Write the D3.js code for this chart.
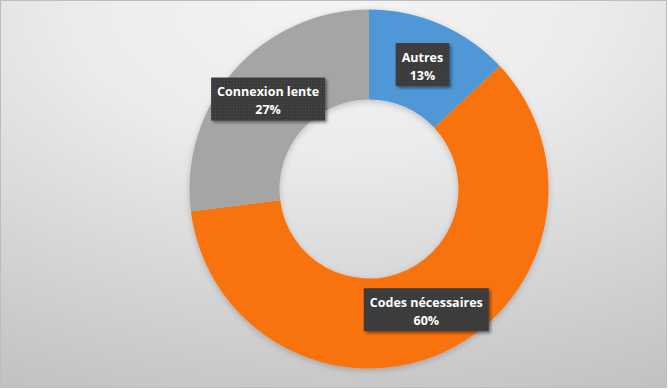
<!DOCTYPE html>
<html lang="fr">
<head>
    <meta charset="UTF-8">
    <title>Donut Chart</title>
    <script src="https://d3js.org/d3.v7.min.js"></script>
    <style>
        html, body { margin: 0; padding: 0; }
        body { width: 668px; height: 389px; overflow: hidden; }
        text {
            font-family: "Open Sans", "Liberation Sans", sans-serif;
            font-weight: bold;
            font-size: 12.5px;
            fill: #fff;
            text-anchor: middle;
        }
    </style>
</head>
<body>
    <div id="chart"></div>

    <script>
        // Data
        const categories = ["Autres", "Codes nécessaires", "Connexion lente"];
        const values = [13, 60, 27];
        const colors = ["#4f97d6", "#f8730a", "#a5a5a5"];

        const width = 668;
        const height = 389;
        const cx = 369, cy = 189;
        const outerRadius = 179.5;
        const innerRadius = 89.5;

        const svg = d3.select("#chart")
            .append("svg")
            .attr("width", width)
            .attr("height", height);

        const defs = svg.append("defs");

        // Background gradient
        const bg = defs.append("radialGradient")
            .attr("id", "bg")
            .attr("cx", "50%").attr("cy", "0%")
            .attr("r", "110%")
            .attr("fx", "50%").attr("fy", "0%");
        bg.append("stop").attr("offset", "0%").attr("stop-color", "#f4f4f4");
        bg.append("stop").attr("offset", "35%").attr("stop-color", "#ececec");
        bg.append("stop").attr("offset", "100%").attr("stop-color", "#c2c2c2");

        // Shadow filters
        const shadow = defs.append("filter").attr("id", "shadow")
            .attr("x", "-20%").attr("y", "-20%").attr("width", "140%").attr("height", "140%");
        shadow.append("feDropShadow")
            .attr("dx", 0).attr("dy", 2).attr("stdDeviation", 3)
            .attr("flood-color", "#000").attr("flood-opacity", 0.2);

        const boxShadow = defs.append("filter").attr("id", "boxShadow")
            .attr("x", "-20%").attr("y", "-20%").attr("width", "140%").attr("height", "150%");
        boxShadow.append("feDropShadow")
            .attr("dx", 2).attr("dy", 2).attr("stdDeviation", 1.5)
            .attr("flood-color", "#000").attr("flood-opacity", 0.45);

        // Dotted pattern for label boxes
        const pat = defs.append("pattern")
            .attr("id", "dots")
            .attr("width", 3).attr("height", 3)
            .attr("patternUnits", "userSpaceOnUse");
        pat.append("rect").attr("width", 3).attr("height", 3).attr("fill", "#3b3b3b");
        pat.append("rect").attr("x", 1).attr("y", 1).attr("width", 1).attr("height", 1).attr("fill", "#4a4a4a");

        svg.append("rect")
            .attr("x", 0.5).attr("y", 0.5)
            .attr("width", width - 2).attr("height", height - 2)
            .attr("fill", "url(#bg)")
            .attr("stroke", "#bdbdbd")
            .attr("stroke-width", 1);

        const data = categories.map((c, i) => ({ name: c, value: values[i], color: colors[i] }));

        const pie = d3.pie()
            .value(d => d.value)
            .sort(null);

        const arc = d3.arc()
            .innerRadius(innerRadius)
            .outerRadius(outerRadius);

        const labelArc = d3.arc()
            .innerRadius((innerRadius + outerRadius) / 2)
            .outerRadius((innerRadius + outerRadius) / 2);

        const g = svg.append("g")
            .attr("transform", `translate(${cx},${cy})`);

        const arcs = pie(data);

        g.append("g")
            .attr("filter", "url(#shadow)")
            .selectAll("path")
            .data(arcs)
            .join("path")
            .attr("d", arc)
            .attr("fill", d => d.data.color);

        // Labels in dark boxes
        const total = d3.sum(values);
        const labels = g.selectAll("g.label")
            .data(arcs)
            .join("g")
            .attr("class", "label")
            .attr("transform", d => `translate(${labelArc.centroid(d)})`);

        labels.each(function (d) {
            const lg = d3.select(this);
            const rect = lg.append("rect").attr("fill", "url(#dots)").attr("filter", "url(#boxShadow)");
            const t1 = lg.append("text").attr("y", -4).text(d.data.name);
            const t2 = lg.append("text").attr("y", 14)
                .text(Math.round(d.data.value / total * 100) + "%");
            const w = Math.max(t1.node().getComputedTextLength(), t2.node().getComputedTextLength()) + 12;
            const h = 43;
            rect.attr("x", -w / 2).attr("y", -h / 2 - 1).attr("width", w).attr("height", h);
        });
    </script>
</body>
</html>
